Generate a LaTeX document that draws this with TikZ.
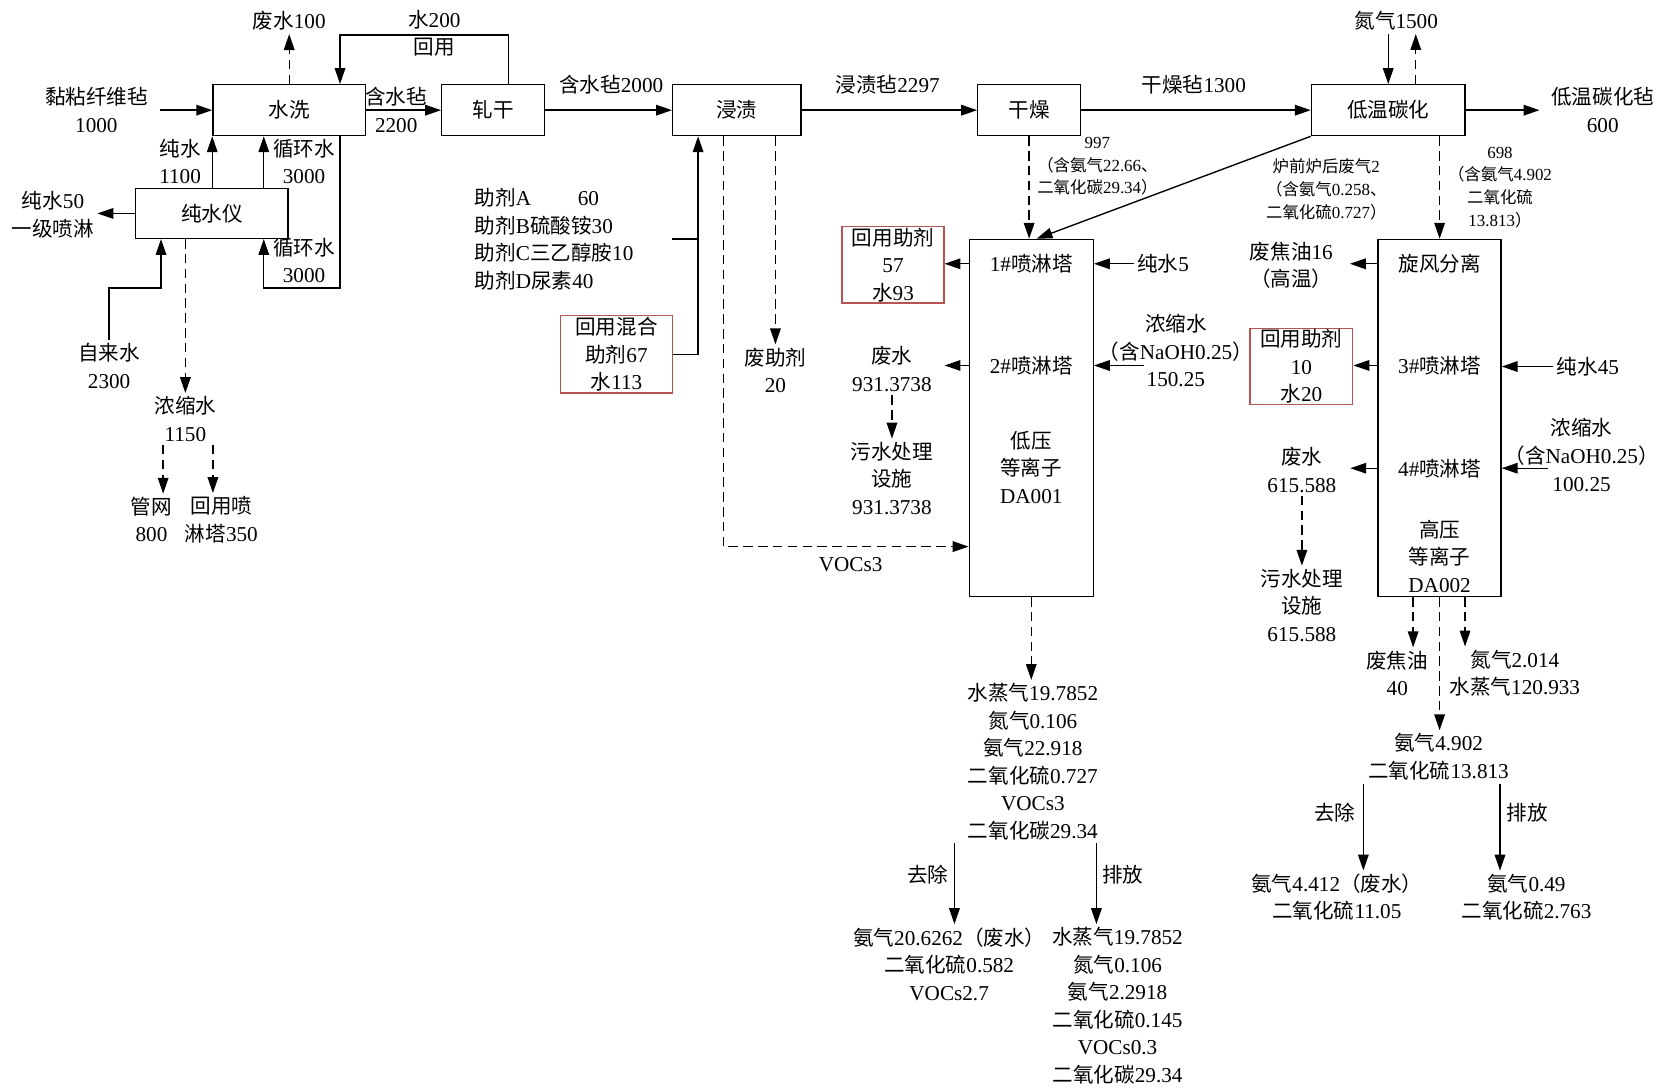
\documentclass[tikz,border=0pt]{standalone}
\usepackage{fontspec}
\setmainfont{Liberation Serif}
\newfontfamily\latinfont{Liberation Serif}
\newfontfamily\cjkfont[Scale=0.97]{Noto Sans CJK SC}
\usetikzlibrary{arrows.meta}

% Chinese characters in the CJK font, the rest in Liberation Serif
\XeTeXinterchartokenstate=1
\newXeTeXintercharclass\cjkclass
\count255="3000
\loop
  \XeTeXcharclass\count255=\cjkclass
  \ifnum\count255<"9FFF \advance\count255 by 1
\repeat
\count255="FF00
\loop
  \XeTeXcharclass\count255=\cjkclass
  \ifnum\count255<"FFEF \advance\count255 by 1
\repeat
\XeTeXinterchartoks 0 \cjkclass = {\cjkfont}
\XeTeXinterchartoks 4095 \cjkclass = {\cjkfont}
\XeTeXinterchartoks \cjkclass 0 = {\latinfont}
\XeTeXinterchartoks \cjkclass 4095 = {\latinfont}

\definecolor{recyred}{RGB}{182,84,82}

\begin{document}
\begin{tikzpicture}[x=1pt, y=-1pt,
    font=\fontsize{20}{26}\selectfont,
    proc/.style={draw, line width=1.3pt, minimum height=48pt},
    tower/.style={draw, line width=1.3pt, minimum width=117pt, minimum height=337pt},
    recy/.style={draw=recyred, line width=1.3pt, minimum width=96pt, minimum height=72pt, align=center, inner sep=0pt},
    txt/.style={align=center, inner sep=3pt},
    sml/.style={align=center, inner sep=2pt, font=\fontsize{16}{21.5}\selectfont},
    pipe/.style={line width=1.3pt},
    flow/.style={pipe, -{Triangle[length=15pt,width=10pt]}},
    dflow/.style={flow, dash pattern=on 9pt off 5pt}
]
\useasboundingbox (0,0) rectangle (1568,1029);

% Main process line
\foreach \nm/\x/\w/\txt in {wash/273/144/水洗, roll/465.5/97/轧干,
    soak/695.5/121/浸渍, dry/971.5/97/干燥, carb/1310.5/145/低温碳化}
  \node[proc, minimum width=\w pt] (\nm) at (\x,104) {\txt};
\node[proc, minimum width=144pt, minimum height=47pt] (pure) at (200,201.5) {纯水仪};

\node[txt] (felt) at (91,104) {黏粘纤维毡\\1000};
\node[txt] (wetf) at (374,104) {含水毡\\2200};
\node[txt] (wetf2) at (577,80) {含水毡2000};
\node[txt] (soakf) at (838,80) {浸渍毡2297};
\node[txt] (dryf) at (1127,80) {干燥毡1300};
\node[txt] (prod) at (1513,104) {低温碳化毡\\600};
\node[txt] (nitro) at (1318,20) {氮气1500};
\node[txt] (wastew) at (273,20) {废水100};
\node[txt] (ret) at (410,31.5) {水200\\回用};

\draw[flow] ([xshift=8pt]felt.east) -- (wash.west);
\draw[flow] (wash) -- (roll);
\draw[flow] (roll) -- (soak);
\draw[flow] (soak) -- (dry);
\draw[flow] (dry) -- (carb);
\draw[flow] (carb.east) -- ([xshift=-8pt]prod.west);
\draw[flow] (nitro.south -| carb.north) -- (carb.north);
\draw[dflow] ([xshift=26pt]carb.north) -- ([xshift=26pt]carb.north |- nitro.south);
\draw[dflow] (wash.north) -- (wastew.south);
\coordinate (retR) at (480,33);
\coordinate (retL) at (321,33);
\draw[flow] (roll.north -| retR) -- (retR) -- (retL) -- (wash.north -| retL);

% Pure water unit
\node[txt] (pw) at (170,152.5) {纯水\\1100};
\node[txt] (cw1) at (287,152.5) {循环水\\3000};
\node[txt] (cw2) at (287,246) {循环水\\3000};
\node[txt] (spray) at (50,202.5) {纯水50\\一级喷淋};
\node[txt] (tap) at (103,345.5) {自来水\\2300};
\node[txt] (conc) at (175,395.5) {浓缩水\\1150};
\node[txt] (grid) at (143,490.5) {管网\\800};
\node[txt] (reuse) at (209,490.5) {回用喷\\淋塔350};
\coordinate (cyc) at (249,0);
\coordinate (loopR) at (321,272);
\coordinate (tapk) at (152,272);
\coordinate (gx) at (154,0);
\coordinate (rx) at (201,0);

\draw[flow] (pure.north -| wash.west) -- (wash.south west);
\draw[flow] (pure.north -| cyc) -- (wash.south -| cyc);
\draw[flow] (wash.south -| loopR) -- (loopR) -| (pure.south -| cyc);
\draw[flow] (tap.north) |- (tapk) -- (pure.south -| tapk);
\draw[flow] (pure.west) -- (pure.west -| spray.east);
\draw[dflow] (pure.south -| conc) -- (conc.north);
\draw[dflow] (conc.south -| gx) -- (grid.north -| gx);
\draw[dflow] (conc.south -| rx) -- (reuse.north -| rx);

% Impregnation agents
\node[txt, align=left, anchor=west] (agents) at (445,225.75)
  {助剂A\hspace{44pt}60\\助剂B硫酸铵30\\助剂C三乙醇胺10\\助剂D尿素40};
\node[recy, minimum width=106pt, minimum height=73pt] (mix) at (582,334.5) {回用混合\\助剂67\\水113};
\node[txt] (wagent) at (732,349.5) {废助剂\\20};
\node[txt] (voc) at (803,533) {VOCs3};
\coordinate (mixx) at (659,0);
\coordinate (vocx) at (683,516);
\draw[pipe] ([xshift=33pt]agents.east) -- (agents.east -| mixx);
\draw[flow] (mix.east) -| (soak.south -| mixx);
\draw[dflow] (soak.south -| wagent) -- (wagent.north);

% Low pressure plasma line
\node[tower] (lp) at (973.5,394.5) {};
\node[txt] (s1) at (973.5,249) {1\#喷淋塔};
\node[txt] (s2) at (973.5,345) {2\#喷淋塔};
\node[txt] (lpn) at (973.5,441) {低压\\等离子\\DA001};
\draw[dflow] (soak.south -| vocx) -- (vocx) -- (vocx -| lp.west);
\draw[dflow] (dry.south) -- (dry.south |- lp.north);
\draw[flow] (carb.south west) -- ([xshift=5pt]lp.north);
\node[sml] (dryex) at (1036,157) {997\\（含氨气22.66、\\二氧化碳29.34）};
\node[sml] (furn) at (1252,178.5) {炉前炉后废气2\\（含氨气0.258、\\二氧化硫0.727）};

\node[recy] (rec1) at (843,250) {回用助剂\\57\\水93};
\node[txt] (pw5) at (1098,249) {纯水5};
\node[txt] (conc1) at (1110,331) {浓缩水\\（含NaOH0.25）\\150.25};
\node[txt] (ww1) at (842,348.5) {废水\\931.3738};
\node[txt] (wt1) at (842,451.5) {污水处理\\设施\\931.3738};
\coordinate (c1in) at (1080,345);
\draw[flow] (s1 -| lp.west) -- (s1 -| rec1.east);
\draw[flow] (pw5.west) -- (pw5 -| lp.east);
\draw[flow] (c1in) -- (c1in -| lp.east);
\draw[flow] (s2 -| lp.west) -- ([xshift=9pt]ww1.east |- s2);
\draw[dflow] (ww1.south) -- (wt1.north);

\node[txt] (gas1) at (975,719) {水蒸气19.7852\\氮气0.106\\氨气22.918\\二氧化硫0.727\\VOCs3\\二氧化碳29.34};
\node[txt] (rem1) at (896,910) {氨气20.6262（废水）\\二氧化硫0.582\\VOCs2.7};
\node[txt] (emi1) at (1055,949.5) {水蒸气19.7852\\氮气0.106\\氨气2.2918\\二氧化硫0.145\\VOCs0.3\\二氧化碳29.34};
\node[txt] (rm1) at (876,826) {去除};
\node[txt] (em1) at (1060,826) {排放};
\coordinate (remx) at (901,0);
\coordinate (emix) at (1035,0);
\draw[dflow] (lp.south) -- (lp.south |- gas1.north);
\draw[flow] (gas1.south -| remx) -- (rem1.north -| remx);
\draw[flow] (gas1.south -| emix) -- (emi1.north -| emix);

% High pressure plasma line
\node[tower, minimum width=116pt] (hp) at (1359,394.5) {};
\node[txt] (cy) at (1359,249) {旋风分离};
\node[txt] (s3) at (1359,345) {3\#喷淋塔};
\node[txt] (s4) at (1359,442) {4\#喷淋塔};
\node[txt] (hpn) at (1359,525) {高压\\等离子\\DA002};
\draw[dflow] (carb.south -| hp.north) -- (hp.north);
\node[sml] (carbex) at (1416,177) {698\\（含氨气4.902\\二氧化硫\\13.813）};

\node[txt] (tar1) at (1219,250.5) {废焦油16\\（高温）};
\node[recy, minimum width=97pt] (rec2) at (1228.5,346) {回用助剂\\10\\水20};
\node[txt] (pw45) at (1499,346) {纯水45};
\node[txt] (conc2) at (1493,429.5) {浓缩水\\（含NaOH0.25）\\100.25};
\node[txt] (ww2) at (1229,443.5) {废水\\615.588};
\node[txt] (wt2) at (1229,571.5) {污水处理\\设施\\615.588};
\coordinate (c2in) at (1461,442);
\draw[flow] (cy -| hp.west) -- ([xshift=13pt]tar1.east |- cy);
\draw[flow] (s3 -| hp.west) -- (s3 -| rec2.east);
\draw[flow] (pw45.west) -- (pw45 -| hp.east);
\draw[flow] (c2in) -- (c2in -| hp.east);
\draw[flow] (s4 -| hp.west) -- ([xshift=10pt]ww2.east |- s4);
\draw[dflow] (ww2.south) -- (wt2.north);

\node[txt] (tar2) at (1319,635.5) {废焦油\\40};
\node[txt] (n2) at (1430,635.5) {氮气2.014\\水蒸气120.933};
\node[txt] (gas2) at (1358,714.5) {氨气4.902\\二氧化硫13.813};
\node[txt] (rem2) at (1262,847) {氨气4.412（废水）\\二氧化硫11.05};
\node[txt] (emi2) at (1441,847) {氨气0.49\\二氧化硫2.763};
\node[txt] (rm2) at (1260,767) {去除};
\node[txt] (em2) at (1442,767) {排放};
\coordinate (tarx) at (1334,0);
\coordinate (n2x) at (1383,0);
\coordinate (rem2x) at (1287,0);
\coordinate (emi2x) at (1416,0);
\draw[dflow] (hp.south -| tarx) -- (tar2.north -| tarx);
\draw[dflow] (hp.south -| n2x) -- (n2.north -| n2x);
\draw[dflow] (hp.south) -- (hp.south |- gas2.north);
\draw[flow] (gas2.south -| rem2x) -- (rem2.north -| rem2x);
\draw[flow] (gas2.south -| emi2x) -- (emi2.north -| emi2x);
\end{tikzpicture}
\end{document}
